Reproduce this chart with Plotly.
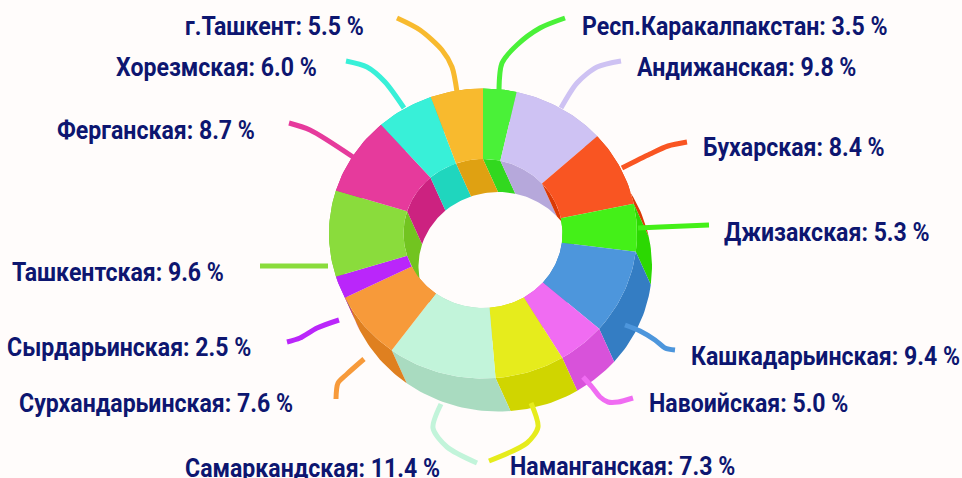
import math
import plotly.graph_objects as go

regions = ["Респ.Каракалпакстан", "Андижанская", "Бухарская", "Джизакская", "Кашкадарьинская",
           "Навоийская", "Наманганская", "Самаркандская", "Сурхандарьинская", "Сырдарьинская",
           "Ташкентская", "Ферганская", "Хорезмская", "г.Ташкент"]
shares = [3.5, 9.8, 8.4, 5.3, 9.4, 5.0, 7.3, 11.4, 7.6, 2.5, 9.6, 8.7, 6.0, 5.5]
top_colors = ["#4AF138", "#CEC2F3", "#F95522", "#44F018", "#4D96DC", "#F06CF2", "#E6EC1C",
              "#C2F4DA", "#F79A3A", "#BA26FA", "#8ADC3C", "#E63A9C", "#38F0D8", "#F8BA2E"]
wall_colors = ["#32D81F", "#B6A8DB", "#DA3A06", "#2CD802", "#347DC3", "#D852DA", "#D0D500",
               "#A9DBC0", "#DF8020", "#A00EE0", "#72C420", "#CC2280", "#1FD6BE", "#DFA112"]
label_x = [580, 635, 701, 722, 689, 647, 508, 183, 17, 5, 10, 55, 114, 183]
label_y = [26, 67, 147, 232, 356, 403, 466, 468, 403, 347, 272, 130, 67, 26]
leaders = [
    [(499, 90), (502, 63), (517, 45), (540, 28), (565, 18)],
    [(561, 108), (577, 83), (597, 67), (621, 61)],
    [(622, 168), (650, 154), (668, 146), (687, 142)],
    [(638, 228), (660, 227), (709, 225)],
    [(625, 325), (640, 331), (655, 340), (665, 348), (675, 350)],
    [(583, 377), (592, 387), (600, 397), (608, 402), (618, 402), (633, 398)],
    [(531, 403), (538, 427), (527, 443), (489, 461)],
    [(441, 404), (433, 428), (447, 447), (477, 463)],
    [(364, 359), (347, 374), (338, 383), (336, 399)],
    [(339, 320), (317, 328), (300, 338), (287, 342)],
    [(328, 266), (260, 266)],
    [(353, 157), (310, 130), (289, 123)],
    [(404, 108), (385, 82), (367, 67), (346, 61)],
    [(457, 92), (452, 67), (442, 50), (420, 30), (397, 18)],
]

CX, CY = 483, 233.5
RX_OUT, RY_OUT = 154, 145
RX_IN, RY_IN = 79.5, 74.5
DX, DY = 15, 33
BG = "#FFFCFB"
TEXT = "#0D1670"
TEXT_SQUEEZE = 0.888


def arc(a0, a1, rx, ry, dx=0, dy=0):
    n = max(3, int((a1 - a0) / 1.5))
    pts = [a0 + (a1 - a0) * i / n for i in range(n + 1)]
    return ([CX + dx + rx * math.sin(math.radians(a)) for a in pts],
            [CY + dy - ry * math.cos(math.radians(a)) for a in pts])


def poly(xa, ya, xb, yb, color):
    return go.Scatter(x=xa + xb[::-1] + xa[:1], y=ya + yb[::-1] + ya[:1], mode="lines",
                      fill="toself", fillcolor=color, line=dict(width=0, color=color),
                      hoverinfo="skip", showlegend=False)


total = sum(shares)
bounds = [0]
for s in shares:
    bounds.append(bounds[-1] + s / total * 360)

walls_out, walls_in, tops = [], [], []
for i in range(len(shares)):
    a0, a1 = bounds[i], bounds[i + 1]
    xo, yo = arc(a0, a1, RX_OUT, RY_OUT)
    xi, yi = arc(a0, a1, RX_IN, RY_IN)
    xos, yos = arc(a0, a1, RX_OUT, RY_OUT, DX, DY)
    xis, yis = arc(a0, a1, RX_IN, RY_IN, DX, DY)
    walls_out.append(poly(xo, yo, xos, yos, wall_colors[i]))
    walls_in.append(poly(xi, yi, xis, yis, wall_colors[i]))
    tops.append(poly(xo, yo, xi, yi, top_colors[i]))

fig = go.Figure(walls_out + walls_in + tops)

for path, color in zip(leaders, top_colors):
    fig.add_trace(go.Scatter(x=[p[0] for p in path], y=[p[1] for p in path], mode="lines",
                             line=dict(color=color, width=5, shape="spline", smoothing=0.8),
                             hoverinfo="skip", showlegend=False))

for name, v, x, y in zip(regions, shares, label_x, label_y):
    fig.add_annotation(x=x, y=y, xref="x", yref="y", xanchor="left", yanchor="middle",
                       text=f"<b>{name}: {v:.1f} %</b>", showarrow=False,
                       font=dict(family="Roboto", size=26, color=TEXT))

fig.update_layout(width=962, height=478, margin=dict(l=0, r=0, t=0, b=0),
                  paper_bgcolor=BG, plot_bgcolor=BG, showlegend=False,
                  xaxis=dict(range=[0, 962], visible=False, fixedrange=True),
                  yaxis=dict(range=[478, 0], visible=False, fixedrange=True))
squeeze_js = (
    "document.body.style.margin='0';document.body.style.overflow='hidden';"
    "document.querySelectorAll('.annotation-text').forEach(function(t){"
    "var x0=t.getBBox().x;"
    "t.setAttribute('transform','translate('+x0+',0) scale(%s,1) translate('+(-x0)+',0)');});"
    % TEXT_SQUEEZE
)
fig.write_html("out.html", config={"displayModeBar": False}, post_script=squeeze_js)
